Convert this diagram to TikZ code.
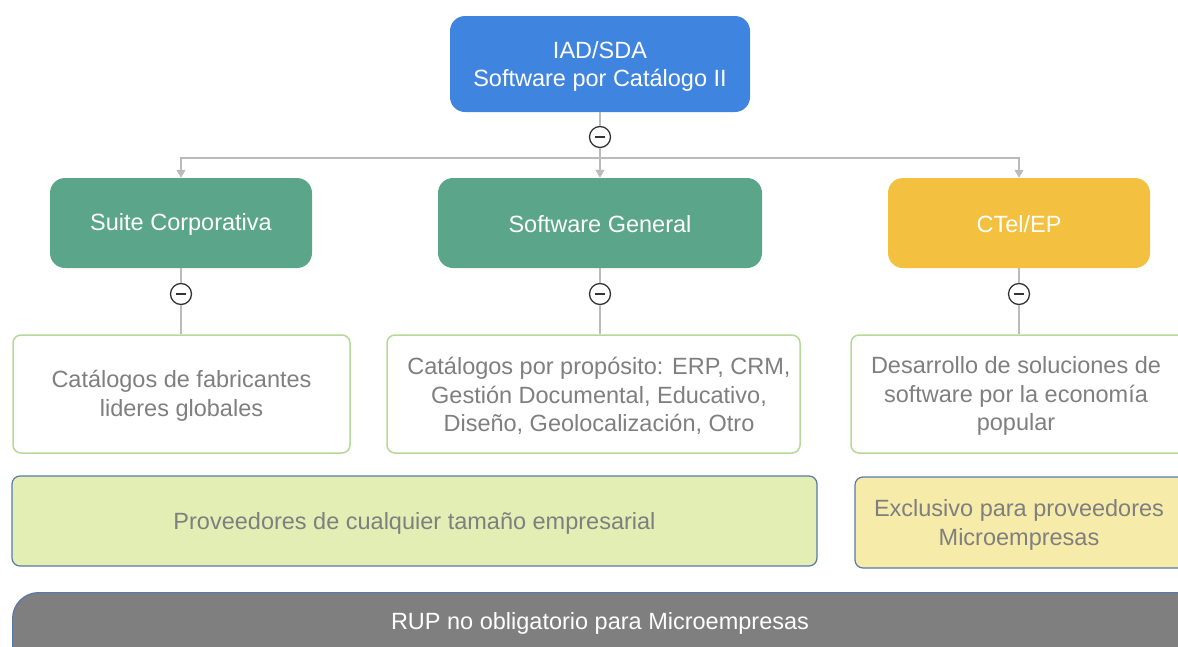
\documentclass[tikz,border=0pt]{standalone}
\usepackage{fontspec}
\setmainfont{Liberation Sans}
\usetikzlibrary{arrows.meta}
\definecolor{rootblue}{HTML}{3F85DF}
\definecolor{teal}{HTML}{5BA68A}
\definecolor{gold}{HTML}{F3C13F}
\definecolor{txtgray}{HTML}{7F7F7F}
\definecolor{lgreen}{HTML}{E2EEB3}
\definecolor{lyellow}{HTML}{F6EBA8}
\definecolor{bargray}{HTML}{7F7F7F}
\definecolor{bordblue}{HTML}{5A78AA}
\definecolor{bordgreen}{HTML}{B6D898}
\definecolor{linegray}{HTML}{BBBBBB}
\tikzset{
  topbox/.style={rectangle, rounded corners=15pt, draw=none, text=white, font=\fontsize{23.5}{28}\selectfont, align=center, inner sep=0pt},
  descbox/.style={rectangle, rounded corners=8pt, draw=bordgreen, line width=1.5pt, fill=white, text=txtgray, font=\fontsize{23.5}{28.5}\selectfont, align=center, inner sep=0pt},
  basebox/.style={rectangle, rounded corners=8pt, draw=bordblue, line width=1.2pt, text=txtgray, font=\fontsize{23.5}{28.5}\selectfont, align=center, inner sep=0pt},
  lbl/.style={inner sep=0pt, align=center},
  toggle/.style={circle, draw=black!80, line width=1.3pt, fill=white, minimum size=21pt, inner sep=0pt,
    path picture={\draw[line width=1.8pt,black!80] ([xshift=-5pt]path picture bounding box.center) -- ([xshift=5pt]path picture bounding box.center);}},
  conn/.style={draw=linegray, line width=1.3pt},
  arr/.style={conn, -{Triangle[length=8pt,width=9pt]}},
}
\begin{document}
\begin{tikzpicture}[x=1pt,y=-1pt]
\useasboundingbox (0,0) rectangle (1178,646);
\clip (0,0) rectangle (1178,646);
% top node
\node[topbox, fill=rootblue, minimum width=300pt, minimum height=96pt] (root) at (600,64) {};
\node[lbl, text=white, font=\fontsize{23.5}{28}\selectfont] (rootl) at (600,66) {IAD/SDA\\Software por Catálogo II};
\node[toggle] (t0) at (600,137) {};
\coordinate (bus) at (600,158);
% children
\node[topbox, fill=teal, minimum width=262pt, minimum height=90pt] (sc) at (181,223) {};
\node[lbl, text=white, font=\fontsize{23.5}{28}\selectfont] (scl) at (181,224) {Suite Corporativa};
\node[topbox, fill=teal, minimum width=324pt, minimum height=90pt] (sg) at (600,223) {};
\node[lbl, text=white, font=\fontsize{23.5}{28}\selectfont] (sgl) at (600,224) {Software General};
\node[topbox, fill=gold, minimum width=262pt, minimum height=90pt] (ct) at (1019,223) {};
\node[lbl, text=white, font=\fontsize{23.5}{28}\selectfont] (ctl) at (1019,224) {CTel/EP};
% connectors
\draw[conn] (root) -- (t0);
\draw[arr] (t0) -- (sg);
\draw[arr] (bus) -| (sc);
\draw[arr] (bus) -| (ct);
% toggles under children
\node[toggle] (t1) at (181,294) {};
\node[toggle] (t2) at (600,294) {};
\node[toggle] (t3) at (1019,294) {};
% description boxes
\node[descbox, minimum width=337pt, minimum height=118pt] (d1) at (181.5,394) {};
\node[lbl, text=txtgray, font=\fontsize{23.5}{28.5}\selectfont] (d1l) at (181.5,396) {Catálogos de fabricantes\\lideres globales};
\node[descbox, minimum width=413pt, minimum height=118pt] (d2) at (593.5,394) {};
\node[lbl, text=txtgray, font=\fontsize{23.5}{28.5}\selectfont] (d2l) at (599,396) {Catálogos por propósito: ERP, CRM,\\Gestión Documental, Educativo,\\Diseño, Geolocalización, Otro};
\node[descbox, minimum width=340pt, minimum height=118pt] (d3) at (1021,394) {};
\node[lbl, text=txtgray, font=\fontsize{23.5}{28.5}\selectfont] (d3l) at (1016,396) {Desarrollo de soluciones de\\software por la economía\\popular};
\draw[conn] (sc) -- (t1);
\draw[conn] (t1) -- (t1 |- d1.north);
\draw[conn] (sg) -- (t2);
\draw[conn] (t2) -- (t2 |- d2.north);
\draw[conn] (ct) -- (t3);
\draw[conn] (t3) -- (t3 |- d3.north);
% base boxes
\node[basebox, fill=lgreen, minimum width=805pt, minimum height=90pt] (p1) at (414.5,521) {};
\node[lbl, text=txtgray, font=\fontsize{23.5}{28.5}\selectfont] (p1l) at (414.5,523) {Proveedores de cualquier tamaño empresarial};
\node[basebox, fill=lyellow, minimum width=340pt, minimum height=91pt] (p2) at (1025,522.5) {};
\node[lbl, text=txtgray, font=\fontsize{23.5}{28.5}\selectfont] (p2l) at (1019,525) {Exclusivo para proveedores\\Microempresas};
\node[basebox, fill=bargray, rounded corners=26pt, minimum width=1190pt, minimum height=80pt, anchor=north west] (rup) at (12,592) {};
\node[lbl, text=white, font=\fontsize{23.5}{28}\selectfont] (ruptxt) at (600,623) {RUP no obligatorio para Microempresas};
\end{tikzpicture}
\end{document}
